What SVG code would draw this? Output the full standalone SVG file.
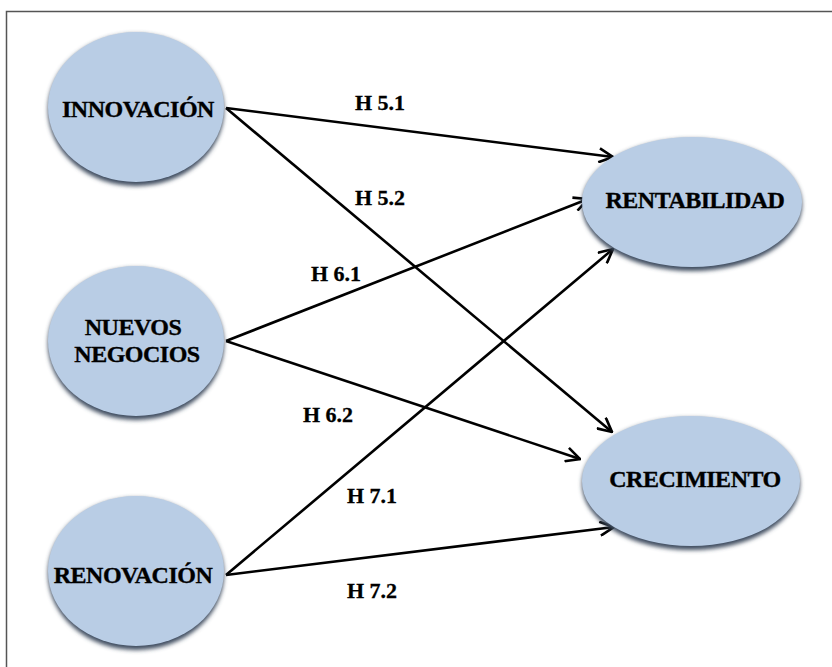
<svg xmlns="http://www.w3.org/2000/svg" width="832" height="667" viewBox="0 0 832 667">
  <style>
    .node { fill: #b9cde5; }
    .rim { fill: #3f4d60; filter: url(#soft); }
    .lbl { font-family: "Liberation Serif", "Times New Roman", serif; font-weight: bold; font-size: 24px; letter-spacing: -0.5px; fill: #000; stroke: #000; stroke-width: 0.35; text-anchor: middle; }
    .hyp { font-family: "Liberation Serif", "Times New Roman", serif; font-weight: bold; font-size: 22px; fill: #000; stroke: #000; stroke-width: 0.3; }
    .link { stroke: #000; stroke-width: 2.6; fill: none; marker-end: url(#head); }
  </style>
  <defs>
    <filter id="soft" x="-20%" y="-20%" width="140%" height="140%">
      <feGaussianBlur stdDeviation="2"/>
    </filter>
    <marker id="head" viewBox="0 0 16 16" refX="15" refY="8" markerWidth="16" markerHeight="16" markerUnits="userSpaceOnUse" orient="auto">
      <path d="M1,1 L15,8 L1,15" fill="none" stroke="#000" stroke-width="2.6" stroke-linejoin="miter"/>
    </marker>
  </defs>

  <rect width="832" height="667" fill="#fff"/>
  <!-- frame -->
  <path d="M6.5,667 V11.5 H832" fill="none" stroke="#555" stroke-width="1.5"/>

  <!-- connectors -->
  <g id="connectors">
    <line class="link" x1="226" y1="108" x2="613" y2="157"/>
    <line class="link" x1="226" y1="108" x2="612" y2="432"/>
    <line class="link" x1="226" y1="341" x2="588" y2="199"/>
    <line class="link" x1="226" y1="341" x2="580" y2="459"/>
    <line class="link" x1="226" y1="575" x2="613" y2="249"/>
    <line class="link" x1="226" y1="575" x2="614" y2="527"/>
  </g>

  <!-- hypothesis labels -->
  <g id="labels">
    <text class="hyp" x="355" y="110">H 5.1</text>
    <text class="hyp" x="355" y="205">H 5.2</text>
    <text class="hyp" x="311" y="281">H 6.1</text>
    <text class="hyp" x="303" y="422">H 6.2</text>
    <text class="hyp" x="347" y="503">H 7.1</text>
    <text class="hyp" x="347" y="598">H 7.2</text>
  </g>

  <g id="innovacion">
    <ellipse class="rim" cx="136" cy="110" rx="88" ry="76"/>
    <ellipse class="node" cx="136" cy="107" rx="88" ry="75"/>
    <text class="lbl" x="138" y="117">INNOVACIÓN</text>
  </g>

  <g id="nuevos-negocios">
    <ellipse class="rim" cx="136" cy="344" rx="88" ry="76"/>
    <ellipse class="node" cx="136" cy="341" rx="88" ry="75"/>
    <text class="lbl" x="133" y="335">NUEVOS</text>
    <text class="lbl" x="137" y="362">NEGOCIOS</text>
  </g>

  <g id="renovacion">
    <ellipse class="rim" cx="136" cy="574" rx="88" ry="76"/>
    <ellipse class="node" cx="136" cy="571" rx="88" ry="75"/>
    <text class="lbl" x="133" y="583">RENOVACIÓN</text>
  </g>

  <g id="rentabilidad">
    <ellipse class="rim" cx="692" cy="205" rx="110" ry="66"/>
    <ellipse class="node" cx="692" cy="202" rx="110" ry="65"/>
    <text class="lbl" x="695" y="208">RENTABILIDAD</text>
  </g>

  <g id="crecimiento">
    <ellipse class="rim" cx="691" cy="484" rx="109" ry="66"/>
    <ellipse class="node" cx="691" cy="481" rx="109" ry="65"/>
    <text class="lbl" x="695" y="487">CRECIMIENTO</text>
  </g>
</svg>
